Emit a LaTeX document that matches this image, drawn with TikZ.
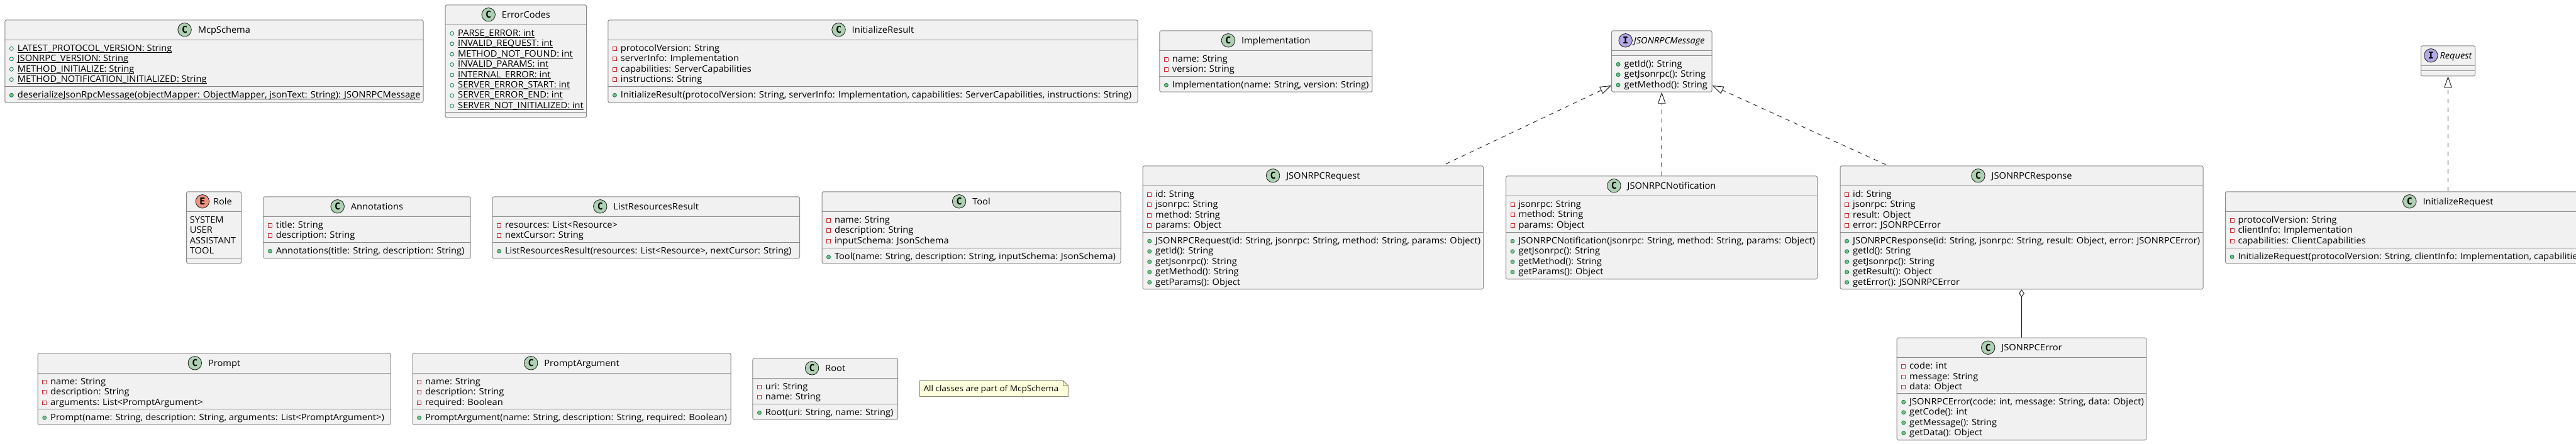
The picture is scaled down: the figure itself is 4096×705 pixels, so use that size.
\documentclass[tikz,border=0pt]{standalone}
\usepackage{fontspec}
\usetikzlibrary{calc,arrows.meta}
\setmainfont[FakeStretch=1.047]{Open Sans}
\newfontfamily\spotfont{DejaVu Sans Mono}
\definecolor{boxfill}{HTML}{F1F1F1}
\definecolor{boxline}{HTML}{888888}
\definecolor{inkline}{HTML}{181818}
\definecolor{privred}{HTML}{C82930}
\definecolor{pubgreen}{HTML}{038048}
\definecolor{pubfill}{HTML}{84BE84}
\definecolor{spotc}{HTML}{ADD1B2}
\definecolor{spoti}{HTML}{B4A7E5}
\definecolor{spote}{HTML}{EB937F}
\definecolor{notefill}{HTML}{FEFFDD}
\definecolor{noteline}{HTML}{8A8A70}
\tikzset{
  umlbox/.style={draw=boxline,fill=boxfill,line width=1pt,rounded corners=2.5pt,inner sep=0pt,anchor=north west},
  sepline/.style={draw=boxline,line width=1pt},
  rowtext/.style={inner sep=0pt,anchor=base west,font=\fontsize{14}{16}\selectfont},
  titletext/.style={inner sep=0pt,anchor=base,font=\fontsize{14}{16}\selectfont},
  spotnode/.style={circle,draw=inkline,line width=.8pt,inner sep=0pt,minimum size=21.5pt,font=\fontsize{15}{16}\spotfont\bfseries},
  realize/.style={draw=inkline,line width=.9pt,dash pattern=on 7pt off 7pt,-{Triangle[length=18pt,width=12.5pt,fill=white,line width=.9pt]}},
  aggreg/.style={draw=inkline,line width=.9pt,{Diamond[length=12.3pt,width=8.6pt,fill=white,line width=.9pt]}-},
  privicon/.style={draw=privred,line width=.9pt,fill=none},
  pubicon/.style={draw=pubgreen,line width=.8pt,fill=pubfill},
  statfield/.style={draw=pubgreen,line width=.8pt,fill=none}
}
\newcount\rowc
\newcommand\ustat[1]{\setbox0=\hbox{#1}\leavevmode\copy0\llap{\rule[-2.2pt]{\wd0}{.8pt}}}
\newcommand\ubox[7]{% name x1 x2 y1 y2 yh ys
  \node[umlbox,minimum width={(#3-#2)*1pt},minimum height={(#5-#4)*1pt}] (#1) at (#2,#4) {};
  \draw[sepline] (#2,#6) -- (#3,#6);
  \draw[sepline] (#2,#7) -- (#3,#7);
  \def\ux{#2}}
\newcommand\utitle[6]{% id letter colour gap text fontextra
  \node[titletext] (#1t) at ($(#1.north)+({(22+#4)/2},21)$) {#6#5};
  \node[spotnode,fill=#3] (#1s) at ($(#1t.base west)+({-#4-11},-5)$) {#2};}
\newcommand\startrows[1]{\pgfmathsetmacro\rowy{#1+18-16.43}}
\newcommand\nextrow{\pgfmathsetmacro\rowy{\rowy+16.43}\global\advance\rowc by 1\relax}
\newcommand\fld[1]{\nextrow
  \draw[privicon] ({\ux+8},{\rowy-7}) rectangle ({\ux+14},{\rowy-1});
  \node[rowtext] (row\the\rowc) at ({\ux+20.3},\rowy) {#1};}
\newcommand\mth[1]{\nextrow
  \draw[pubicon] ({\ux+11},{\rowy-4}) circle (3pt);
  \node[rowtext] (row\the\rowc) at ({\ux+20.3},\rowy) {#1};}
\newcommand\sfld[1]{\nextrow
  \draw[statfield] ({\ux+11},{\rowy-4}) circle (3pt);
  \node[rowtext] (row\the\rowc) at ({\ux+20.3},\rowy) {\ustat{#1}};}
\newcommand\smth[1]{\nextrow
  \draw[pubicon] ({\ux+11},{\rowy-4}) circle (3pt);
  \node[rowtext] (row\the\rowc) at ({\ux+20.3},\rowy) {\ustat{#1}};}
\newcommand\enm[1]{\nextrow
  \node[rowtext] (row\the\rowc) at ({\ux+5.7},\rowy) {#1};}
\newsavebox\notebox
\AtBeginDocument{\sbox\notebox{\fontsize{13}{15}\selectfont All classes are part of McpSchema}}
\begin{document}
\begin{tikzpicture}[x=1pt,y=-1pt]
\useasboundingbox (0,0) rectangle (4096,705);
\clip (0,0) rectangle (4096,705);
\fill[white] (0,0) rectangle (4096,705);

% McpSchema
\ubox{mcp}{7.3}{672.5}{31.3}{162.7}{63.3}{137.3}
\utitle{mcp}{C}{spotc}{10}{McpSchema}{}
\startrows{63.3}
\sfld{LATEST\_PROTOCOL\_VERSION: String}
\sfld{JSONRPC\_VERSION: String}
\sfld{METHOD\_INITIALIZE: String}
\sfld{METHOD\_NOTIFICATION\_INITIALIZED: String}
\startrows{137.3}
\smth{deserializeJsonRpcMessage(objectMapper: ObjectMapper, jsonText: String): JSONRPCMessage}

% ErrorCodes
\ubox{ec}{707.7}{932}{7.3}{186.3}{39.3}{178.3}
\utitle{ec}{C}{spotc}{10}{ErrorCodes}{}
\startrows{39.3}
\sfld{PARSE\_ERROR: int}
\sfld{INVALID\_REQUEST: int}
\sfld{METHOD\_NOT\_FOUND: int}
\sfld{INVALID\_PARAMS: int}
\sfld{INTERNAL\_ERROR: int}
\sfld{SERVER\_ERROR\_START: int}
\sfld{SERVER\_ERROR\_END: int}
\sfld{SERVER\_NOT\_INITIALIZED: int}

% InitializeResult
\ubox{ires}{966.4}{1808.5}{31.3}{162.7}{63.3}{137.3}
\utitle{ires}{C}{spotc}{10}{InitializeResult}{}
\startrows{63.3}
\fld{protocolVersion: String}
\fld{serverInfo: Implementation}
\fld{capabilities: ServerCapabilities}
\fld{instructions: String}
\startrows{137.3}
\mth{InitializeResult(protocolVersion: String, serverInfo: Implementation, capabilities: ServerCapabilities, instructions: String)}

% Implementation
\ubox{impl}{1843.4}{2181.4}{48.3}{145.7}{80.3}{121.3}
\utitle{impl}{C}{spotc}{10}{Implementation}{}
\startrows{80.3}
\fld{name: String}
\fld{version: String}
\startrows{121.3}
\mth{Implementation(name: String, version: String)}

% JSONRPCMessage
\ubox{msg}{2562}{2721.6}{48.3}{145.7}{80.3}{88.3}
\utitle{msg}{I}{spoti}{2}{JSONRPCMessage}{\itshape}
\startrows{88.3}
\mth{getId(): String}
\mth{getJsonrpc(): String}
\mth{getMethod(): String}

% Request
\ubox{reqi}{3849}{3935}{72.3}{120.3}{104.3}{112.3}
\utitle{reqi}{I}{spoti}{3}{Request}{\itshape}

% Role
\ubox{role}{296}{383}{304.3}{418.3}{336.3}{410.3}
\utitle{role}{E}{spote}{6}{Role}{}
\startrows{336.3}
\enm{SYSTEM}
\enm{USER}
\enm{ASSISTANT}
\enm{TOOL}

% Annotations
\ubox{ann}{418.4}{747.5}{312.3}{410.3}{344.3}{385.3}
\utitle{ann}{C}{spotc}{10}{Annotations}{}
\startrows{344.3}
\fld{title: String}
\fld{description: String}
\startrows{385.3}
\mth{Annotations(title: String, description: String)}

% ListResourcesResult
\ubox{lrr}{782.6}{1271}{312.3}{410.3}{344.3}{385.3}
\utitle{lrr}{C}{spotc}{10}{ListResourcesResult}{}
\startrows{344.3}
\fld{resources: List<Resource>}
\fld{nextCursor: String}
\startrows{385.3}
\mth{ListResourcesResult(resources: List<Resource>, nextCursor: String)}

% Tool
\ubox{tool}{1306.5}{1781.5}{304.3}{418.3}{336.3}{394.7}
\utitle{tool}{C}{spotc}{10}{Tool}{}
\startrows{336.3}
\fld{name: String}
\fld{description: String}
\fld{inputSchema: JsonSchema}
\startrows{394.7}
\mth{Tool(name: String, description: String, inputSchema: JsonSchema)}

% JSONRPCRequest
\ubox{req}{1816.7}{2358}{263.3}{459.3}{295.3}{369.3}
\utitle{req}{C}{spotc}{10}{JSONRPCRequest}{}
\startrows{295.3}
\fld{id: String}
\fld{jsonrpc: String}
\fld{method: String}
\fld{params: Object}
\startrows{369.3}
\mth{JSONRPCRequest(id: String, jsonrpc: String, method: String, params: Object)}
\mth{getId(): String}
\mth{getJsonrpc(): String}
\mth{getMethod(): String}
\mth{getParams(): Object}

% JSONRPCNotification
\ubox{ntf}{2394}{2889}{279.3}{443.3}{311.3}{369.3}
\utitle{ntf}{C}{spotc}{10}{JSONRPCNotification}{}
\startrows{311.3}
\fld{jsonrpc: String}
\fld{method: String}
\fld{params: Object}
\startrows{369.3}
\mth{JSONRPCNotification(jsonrpc: String, method: String, params: Object)}
\mth{getJsonrpc(): String}
\mth{getMethod(): String}
\mth{getParams(): Object}

% JSONRPCResponse
\ubox{resp}{2925.6}{3502.5}{263.3}{459.3}{295.3}{369.3}
\utitle{resp}{C}{spotc}{10}{JSONRPCResponse}{}
\startrows{295.3}
\fld{id: String}
\fld{jsonrpc: String}
\fld{result: Object}
\fld{error: JSONRPCError}
\startrows{369.3}
\mth{JSONRPCResponse(id: String, jsonrpc: String, result: Object, error: JSONRPCError)}
\mth{getId(): String}
\mth{getJsonrpc(): String}
\mth{getResult(): Object}
\mth{getError(): JSONRPCError}

% JSONRPCError
\ubox{err}{3015.7}{3412.3}{536.7}{699.3}{568.7}{625.3}
\utitle{err}{C}{spotc}{10}{JSONRPCError}{}
\startrows{568.7}
\fld{code: int}
\fld{message: String}
\fld{data: Object}
\startrows{625.3}
\mth{JSONRPCError(code: int, message: String, data: Object)}
\mth{getCode(): int}
\mth{getMessage(): String}
\mth{getData(): Object}

% InitializeRequest (runs past the right edge of the picture)
\ubox{ireq}{3538}{4246}{304.3}{418.3}{336.3}{394.3}
\utitle{ireq}{C}{spotc}{10}{InitializeRequest}{}
\startrows{336.3}
\fld{protocolVersion: String}
\fld{clientInfo: Implementation}
\fld{capabilities: ClientCapabilities}
\startrows{394.3}
\mth{InitializeRequest(protocolVersion: String, clientInfo: Implementation, capabilities: ClientCapabilities)}

% Prompt
\ubox{pr}{59.7}{620.5}{561.3}{674.7}{593.3}{650.3}
\utitle{pr}{C}{spotc}{10}{Prompt}{}
\startrows{593.3}
\fld{name: String}
\fld{description: String}
\fld{arguments: List<PromptArgument>}
\startrows{650.3}
\mth{Prompt(name: String, description: String, arguments: List<PromptArgument>)}

% PromptArgument
\ubox{pa}{655.5}{1161.6}{561.3}{674.7}{593.3}{650.3}
\utitle{pa}{C}{spotc}{10}{PromptArgument}{}
\startrows{593.3}
\fld{name: String}
\fld{description: String}
\fld{required: Boolean}
\startrows{650.3}
\mth{PromptArgument(name: String, description: String, required: Boolean)}

% Root
\ubox{root}{1196.4}{1427}{569.3}{666.7}{601.3}{642.3}
\utitle{root}{C}{spotc}{10}{Root}{}
\startrows{601.3}
\fld{uri: String}
\fld{name: String}
\startrows{642.3}
\mth{Root(uri: String, name: String)}

% Note
\pgfmathsetmacro\notew{\wd\notebox/1pt+21}
\node[inner sep=0pt,minimum width={\notew*1pt},minimum height=25pt,anchor=north west] (note) at (1462.3,605.3) {};
\draw[draw=noteline,fill=notefill,line width=1pt]
  (note.north west) -- ($(note.north east)+(-8,0)$) -- ($(note.north east)+(0,8)$) -- (note.south east) -- (note.south west) -- cycle;
\draw[draw=noteline,line width=1pt]
  ($(note.north east)+(-8,0)$) -- ($(note.north east)+(-8,8)$) -- ($(note.north east)+(0,8)$);
\node[inner sep=0pt,anchor=base west] (notetext) at ($(note.north west)+(6,17)$) {\usebox\notebox};

% Connectors
\draw[realize] ($(req.north west)+(482.3,-2.6)$) -- ($(msg.south west)+(0,-10.7)$);
\draw[realize] (ntf.north) -- (msg.south);
\draw[realize] ($(resp.north west)+(72.7,-1.6)$) -- ($(msg.south east)+(0,-10.7)$);
\draw[realize] (ireq.north) -- (reqi.south);
\draw[aggreg] (resp.south) -- (err.north);
\end{tikzpicture}
\end{document}
